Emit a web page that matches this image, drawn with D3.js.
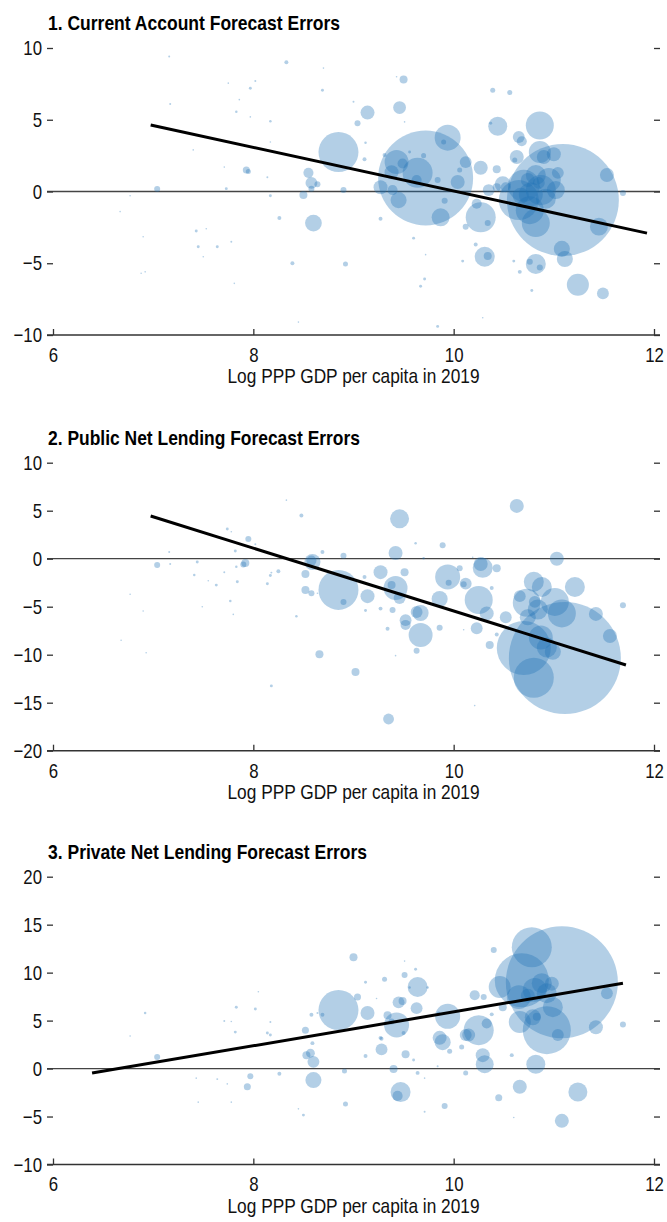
<!DOCTYPE html>
<html>
<head>
<meta charset="utf-8">
<script src="https://cdn.jsdelivr.net/npm/d3@7"></script>
<style>
	body { margin: 0; background: #fff; }
	svg text { font-family: "Liberation Sans", Arial, sans-serif; }
</style>
</head>
<body>
<svg id="chart" width="667" height="1222"></svg>
<script>
// [log PPP GDP per capita, forecast error, weight]
const currentAccount = [
	[7.16, 9.4, 0.005], [8.33, 9.0, 0.02], [8.70, 8.6, 0.003], [8.02, 7.7, 0.005], [7.97, 7.2, 0.011],
	[8.69, 7.05, 0.011], [7.75, 7.55, 0.003], [7.86, 6.4, 0.003], [7.17, 6.1, 0.005], [7.83, 5.55, 0.008],
	[8.17, 4.9, 0.008], [7.97, 5.2, 0.003], [8.17, 3.45, 0.003], [7.40, 2.9, 0.003], [7.71, 1.7, 0.003],
	[7.93, 1.5, 0.063], [7.95, 1.4, 0.032], [8.14, 1.0, 0.005], [8.55, 1.3, 0.13], [8.58, 0.6, 0.18],
	[8.64, 0.5, 0.046], [8.58, 0.2, 0.046], [7.04, 0.17, 0.046], [7.73, 0.2, 0.011], [8.17, -0.3, 0.011],
	[8.50, -0.25, 0.082], [6.77, -0.3, 0.003], [8.85, 2.75, 2.04], [9.50, 7.8, 0.082], [9.43, 8.0, 0.003],
	[9.00, 6.25, 0.005], [9.14, 5.5, 0.25], [9.04, 4.75, 0.046], [9.46, 5.85, 0.21], [9.51, 4.85, 0.003],
	[9.12, 3.4, 0.008], [9.11, 2.25, 0.02], [8.90, 0.1, 0.046], [9.31, 2.55, 0.02], [9.43, 2.05, 0.73],
	[9.49, 1.95, 0.13], [9.38, 1.35, 0.25], [9.64, 1.3, 1.15], [9.63, 0.8, 0.13], [9.27, 0.3, 0.25],
	[9.39, 0.1, 0.13], [9.56, 2.75, 0.011], [9.70, 2.5, 0.032], [9.94, 3.75, 0.86], [9.90, 3.45, 0.032],
	[9.72, 0.94, 11.5], [9.84, 0.8, 0.046], [10.12, 2.05, 0.18], [10.04, 0.66, 0.25], [10.06, 1.5, 0.032],
	[10.27, 1.65, 0.25], [10.43, 1.55, 0.082], [10.35, 0.1, 0.18], [10.39, 7.05, 0.032], [10.56, 6.9, 0.032],
	[10.44, 4.55, 0.46], [10.37, 4.75, 0.011], [10.86, 4.6, 1.0], [10.65, 3.8, 0.18], [10.68, 3.5, 0.13],
	[10.63, 2.4, 0.25], [10.61, 2.2, 0.032], [10.86, 2.75, 0.62], [11.00, 2.6, 0.25], [10.90, 2.4, 0.25],
	[11.04, 1.3, 0.18], [11.53, 1.15, 0.25], [11.69, -0.1, 0.046], [10.49, 0.5, 0.33], [10.43, 0.3, 0.082],
	[11.09, -0.6, 16], [10.70, 0.4, 1.3], [10.87, 0.1, 1.15], [10.95, 0.8, 0.73], [10.77, -0.2, 0.73],
	[10.92, -0.5, 0.51], [10.82, 1.15, 0.51], [11.02, 0.1, 0.41], [10.67, -0.3, 0.33], [10.74, 0.8, 0.25],
	[10.85, 0.6, 0.18], [8.60, -2.2, 0.36], [8.26, -1.85, 0.02], [6.67, -1.4, 0.003], [6.90, -3.15, 0.003],
	[7.43, -2.75, 0.011], [7.53, -2.6, 0.003], [7.45, -3.85, 0.011], [7.64, -3.85, 0.011], [7.78, -3.5, 0.005],
	[7.50, -4.55, 0.003], [6.88, -5.7, 0.003], [6.92, -5.6, 0.003], [7.81, -6.4, 0.003], [8.39, -5.0, 0.02],
	[8.92, -5.05, 0.032], [9.27, -1.9, 0.02], [9.87, -1.8, 0.41], [9.91, -0.65, 0.046], [10.12, -2.45, 0.046],
	[10.27, -1.8, 1.15], [10.34, -2.2, 0.046], [10.23, -0.85, 0.13], [9.45, -0.6, 0.33], [9.60, -3.25, 0.011],
	[9.72, -4.4, 0.003], [9.71, -6.1, 0.011], [9.67, -6.6, 0.011], [9.84, -9.4, 0.011], [8.45, -9.1, 0.003],
	[10.31, -4.55, 0.51], [10.34, -4.5, 0.082], [10.29, -8.8, 0.003], [10.22, -3.7, 0.02], [10.09, -4.85, 0.011],
	[10.60, -4.85, 0.011], [10.66, -5.6, 0.02], [10.82, -5.05, 0.51], [10.86, -5.3, 0.046], [10.76, -4.9, 0.046],
	[10.78, -6.9, 0.011], [11.24, -6.5, 0.62], [11.49, -7.1, 0.18], [11.08, -4.0, 0.33], [11.11, -4.7, 0.33],
	[11.45, -2.45, 0.41], [10.82, -2.2, 1.0], [10.76, -1.3, 1.0], [10.65, -0.6, 2.04], [10.52, 0.3, 0.13]
];

const publicLending = [
	[8.48, 4.5, 0.02], [8.33, 6.1, 0.003], [7.74, 3.1, 0.011], [7.78, 2.8, 0.003], [7.95, 2.05, 0.046],
	[8.02, 1.5, 0.005], [7.82, 0.8, 0.011], [7.16, 0.7, 0.005], [8.69, 0.7, 0.02], [7.04, -0.65, 0.046],
	[7.17, -0.55, 0.005], [7.44, -0.35, 0.011], [7.92, -0.45, 0.082], [7.90, -0.6, 0.046], [7.83, -0.85, 0.008],
	[8.59, -0.35, 0.33], [8.58, -0.2, 0.13], [8.52, -1.6, 0.082], [8.25, -1.3, 0.02], [8.17, -1.75, 0.011],
	[8.18, -1.45, 0.005], [7.41, -1.7, 0.008], [7.71, -1.4, 0.005], [7.84, -2.4, 0.011], [7.63, -2.75, 0.011],
	[8.14, -2.6, 0.011], [7.55, -2.3, 0.003], [8.52, -3.25, 0.082], [8.58, -3.6, 0.046], [8.64, -3.6, 0.003],
	[6.77, -3.7, 0.003], [7.77, -4.4, 0.008], [7.49, -5.0, 0.003], [6.90, -5.45, 0.003], [8.43, -6.0, 0.008],
	[7.80, -5.8, 0.003], [8.85, -3.25, 2.04], [10.63, 5.5, 0.25], [9.46, 4.15, 0.46], [9.89, 1.4, 0.046],
	[9.62, 1.6, 0.008], [9.42, 0.6, 0.25], [8.90, 0.3, 0.046], [11.03, 0.0, 0.25], [10.27, -0.55, 0.25],
	[10.29, -0.95, 0.51], [10.43, -1.0, 0.082], [10.06, -1.0, 0.046], [10.19, 0.15, 0.003], [9.70, 0.05, 0.008],
	[9.51, -1.4, 0.082], [9.27, -1.4, 0.25], [9.11, -1.9, 0.02], [9.94, -1.9, 0.8], [9.95, -2.5, 0.046],
	[10.12, -2.6, 0.18], [10.10, -2.65, 0.046], [9.42, -3.05, 0.73], [9.38, -2.75, 0.082], [9.46, -4.1, 0.18],
	[9.14, -3.9, 0.25], [8.90, -4.5, 0.046], [10.80, -2.4, 0.51], [10.88, -2.95, 0.51], [11.21, -2.95, 0.51],
	[10.66, -3.9, 0.18], [10.25, -4.3, 1.0], [9.86, -4.2, 0.33], [10.38, -3.05, 0.02], [10.73, -4.6, 1.0],
	[10.81, -4.5, 0.18], [11.01, -4.5, 1.0], [11.42, -5.75, 0.25], [11.69, -4.85, 0.046], [9.63, -5.55, 0.18],
	[9.39, -5.35, 0.046], [9.27, -5.2, 0.02], [9.12, -5.4, 0.011], [10.33, -5.7, 0.25], [9.52, -6.4, 0.18],
	[9.52, -6.9, 0.13], [9.67, -7.95, 0.73], [9.67, -5.65, 0.33], [9.63, -9.6, 0.046], [9.34, -7.3, 0.02],
	[9.42, -10.1, 0.003], [9.86, -7.2, 0.046], [10.10, -7.4, 0.003], [10.23, -7.25, 0.18], [10.36, -9.0, 0.082],
	[10.43, -7.9, 0.02], [10.52, -6.1, 0.18], [8.66, -9.95, 0.082], [9.02, -11.8, 0.082], [8.18, -13.25, 0.011],
	[9.35, -16.7, 0.15], [10.21, -15.3, 0.003], [6.68, -8.5, 0.003], [6.93, -9.8, 0.003], [11.56, -8.05, 0.25],
	[10.80, -12.4, 2.04], [10.70, -9.3, 3.72], [10.87, -8.2, 0.73], [10.93, -9.25, 0.51], [10.99, -9.7, 0.33],
	[10.84, -5.3, 0.51], [10.74, -6.1, 0.33], [11.08, -5.7, 1.0], [11.11, -10.35, 16]
];

const privateLending = [
	[8.05, 8.0, 0.003], [7.83, 6.4, 0.011], [8.02, 6.2, 0.011], [6.92, 5.8, 0.008], [7.71, 4.95, 0.005],
	[7.78, 4.9, 0.003], [8.17, 4.85, 0.005], [7.82, 3.8, 0.011], [8.14, 3.7, 0.011], [8.17, 3.5, 0.011],
	[8.52, 4.0, 0.063], [8.64, 5.8, 0.005], [8.69, 5.6, 0.02], [6.77, 3.4, 0.003], [8.85, 6.1, 2.04],
	[9.00, 11.6, 0.082], [9.51, 11.2, 0.003], [9.62, 10.35, 0.011], [9.51, 9.75, 0.046], [9.12, 9.0, 0.011],
	[9.31, 9.3, 0.032], [9.64, 8.5, 0.51], [9.56, 8.45, 0.008], [9.74, 8.45, 0.008], [9.04, 7.45, 0.063],
	[9.23, 7.3, 0.003], [9.45, 6.9, 0.18], [9.49, 7.05, 0.082], [9.63, 6.3, 0.18], [8.58, 5.6, 0.02],
	[9.14, 5.8, 0.25], [9.34, 5.55, 0.082], [9.43, 4.55, 0.8], [9.38, 4.9, 0.046], [9.50, 3.7, 0.02],
	[9.27, 3.2, 0.02], [9.94, 5.45, 0.8], [9.85, 5.75, 0.02], [9.86, 3.2, 0.25], [10.25, 4.0, 1.15],
	[10.33, 4.7, 0.13], [10.12, 3.5, 0.18], [10.21, 7.65, 0.13], [10.30, 7.45, 0.046], [10.38, 5.65, 0.02],
	[10.40, 12.35, 0.046], [10.78, 12.65, 2.04], [10.46, 8.5, 0.62], [10.68, 9.2, 3.72], [10.65, 7.45, 0.73],
	[10.81, 8.2, 0.73], [10.88, 8.9, 0.51], [10.98, 8.85, 0.25], [10.93, 7.85, 0.51], [10.74, 7.6, 0.25],
	[10.49, 6.4, 0.082], [10.99, 6.4, 0.51], [10.79, 5.35, 0.33], [10.83, 5.4, 0.082], [10.66, 4.85, 0.62],
	[10.93, 4.0, 2.94], [11.04, 3.5, 0.18], [11.53, 7.85, 0.18], [11.42, 4.3, 0.25], [11.69, 4.6, 0.046],
	[11.08, 9.0, 16], [7.04, 1.2, 0.046], [7.43, -1.0, 0.003], [7.64, -1.1, 0.005], [7.74, -1.6, 0.003],
	[7.97, -0.8, 0.046], [7.94, -1.9, 0.063], [8.26, -0.55, 0.02], [7.45, -3.5, 0.003], [7.78, -3.5, 0.003],
	[8.45, -4.2, 0.003], [8.50, -4.85, 0.011], [8.59, 2.65, 0.02], [8.53, 1.4, 0.082], [8.57, 1.6, 0.1],
	[8.60, 0.7, 0.18], [8.60, -1.2, 0.33], [8.91, -0.25, 0.032], [8.92, -3.7, 0.032], [9.12, 1.3, 0.02],
	[9.28, 2.0, 0.18], [9.28, 3.1, 0.02], [9.40, -0.05, 0.082], [9.52, 1.5, 0.082], [9.47, -2.45, 0.51],
	[9.44, -2.85, 0.13], [9.64, -0.45, 0.02], [9.60, 0.9, 0.011], [9.71, -4.5, 0.005], [9.84, 0.25, 0.005],
	[9.89, 2.75, 0.33], [9.91, -3.9, 0.046], [9.96, 1.8, 0.032], [10.12, -0.45, 0.032], [10.08, 2.25, 0.032],
	[10.15, 3.5, 0.21], [10.29, 1.4, 0.25], [10.31, 0.45, 0.41], [10.45, -3.05, 0.063], [10.58, 1.4, 0.02],
	[10.60, -5.1, 0.003], [10.66, -1.9, 0.25], [10.82, 0.45, 0.46], [11.24, -2.45, 0.46], [11.08, -5.45, 0.25],
	[9.71, -1.0, 0.003]
];

// fitted lines: [x0, y0, x1, y1]
const currentAccountFit = [6.975, 4.63, 11.93, -2.9];
const publicLendingFit = [6.975, 4.45, 11.72, -11.07];
const privateLendingFit = [6.39, -0.47, 11.69, 8.9];

const xTicks = [6, 8, 10, 12];
const currentAccountTicks = [-10, -5, 0, 5, 10];
const publicLendingTicks = [-20, -15, -10, -5, 0, 5, 10];
const privateLendingTicks = [-10, -5, 0, 5, 10, 15, 20];

const panels = [
	{ title: "1. Current Account Forecast Errors", titleWidth: 292, data: currentAccount, fit: currentAccountFit, ticks: currentAccountTicks, top: 48, bottom: 335 },
	{ title: "2. Public Net Lending Forecast Errors", titleWidth: 312, data: publicLending, fit: publicLendingFit, ticks: publicLendingTicks, top: 462.7, bottom: 750.7 },
	{ title: "3. Private Net Lending Forecast Errors", titleWidth: 319, data: privateLending, fit: privateLendingFit, ticks: privateLendingTicks, top: 876.7, bottom: 1164.5 }
];

const svg = d3.select("#chart");
const x = d3.scaleLinear().domain([6, 12]).range([53, 654]);
const r = d3.scaleSqrt().domain([0, 16]).range([0, 56]);

// squeeze a text to look like a condensed face
function condense(sel, factor) {
	sel.each(function () {
		const w = this.getComputedTextLength();
		d3.select(this)
			.attr("textLength", w * factor)
			.attr("lengthAdjust", "spacingAndGlyphs");
	});
}

panels.forEach((p) => {
	const y = d3.scaleLinear().domain(d3.extent(p.ticks)).range([p.bottom, p.top]);
	const g = svg.append("g");

	g.append("text")
		.attr("x", 48)
		.attr("y", p.top - 18)
		.attr("font-size", 21)
		.attr("font-weight", "bold")
		.attr("fill", "#000")
		.attr("textLength", p.titleWidth)
		.attr("lengthAdjust", "spacingAndGlyphs")
		.text(p.title);

	// zero line
	g.append("line")
		.attr("x1", x(6) - 6).attr("x2", x(12) + 6)
		.attr("y1", y(0)).attr("y2", y(0))
		.attr("stroke", "#444")
		.attr("stroke-width", 1.3);

	g.selectAll("circle")
		.data(p.data)
		.enter().append("circle")
		.attr("cx", (d) => x(d[0]))
		.attr("cy", (d) => y(d[1]))
		.attr("r", (d) => Math.max(r(d[2]), 0.8))
		.attr("fill", "#1f71b5")
		.attr("fill-opacity", 0.34);

	g.append("line")
		.attr("x1", x(p.fit[0])).attr("y1", y(p.fit[1]))
		.attr("x2", x(p.fit[2])).attr("y2", y(p.fit[3]))
		.attr("stroke", "#000")
		.attr("stroke-width", 3);

	const left = g.append("g")
		.attr("transform", "translate(" + x(6) + ",0)")
		.call(d3.axisLeft(y).tickValues(p.ticks).tickSize(6).tickPadding(5).tickFormat(d3.format("d")));
	left.select(".domain").remove();

	const right = g.append("g")
		.attr("transform", "translate(" + x(12) + ",0)")
		.call(d3.axisRight(y).tickValues(p.ticks).tickSize(6).tickFormat(""));
	right.select(".domain").remove();

	const bottom = g.append("g")
		.attr("transform", "translate(0," + p.bottom + ")")
		.call(d3.axisBottom(x).tickValues(xTicks).tickSizeInner(-6).tickSizeOuter(0).tickPadding(12).tickFormat(d3.format("d")));
	bottom.select(".domain").remove();

	g.append("line")
		.attr("x1", x(6) - 6).attr("x2", x(12) + 6)
		.attr("y1", p.bottom).attr("y2", p.bottom)
		.attr("stroke", "#333")
		.attr("stroke-width", 1.5);

	g.selectAll(".tick line").attr("stroke", "#333").attr("stroke-width", 1.3);
	g.selectAll("g").attr("font-family", null);
	g.selectAll(".tick text")
		.attr("font-size", 21)
		.attr("fill", "#111")
		.call(condense, 0.8);

	g.append("text")
		.attr("x", (x(6) + x(12)) / 2)
		.attr("y", p.bottom + 48)
		.attr("text-anchor", "middle")
		.attr("font-size", 21)
		.attr("fill", "#111")
		.attr("textLength", 252)
		.attr("lengthAdjust", "spacingAndGlyphs")
		.text("Log PPP GDP per capita in 2019");
});
</script>
</body>
</html>
